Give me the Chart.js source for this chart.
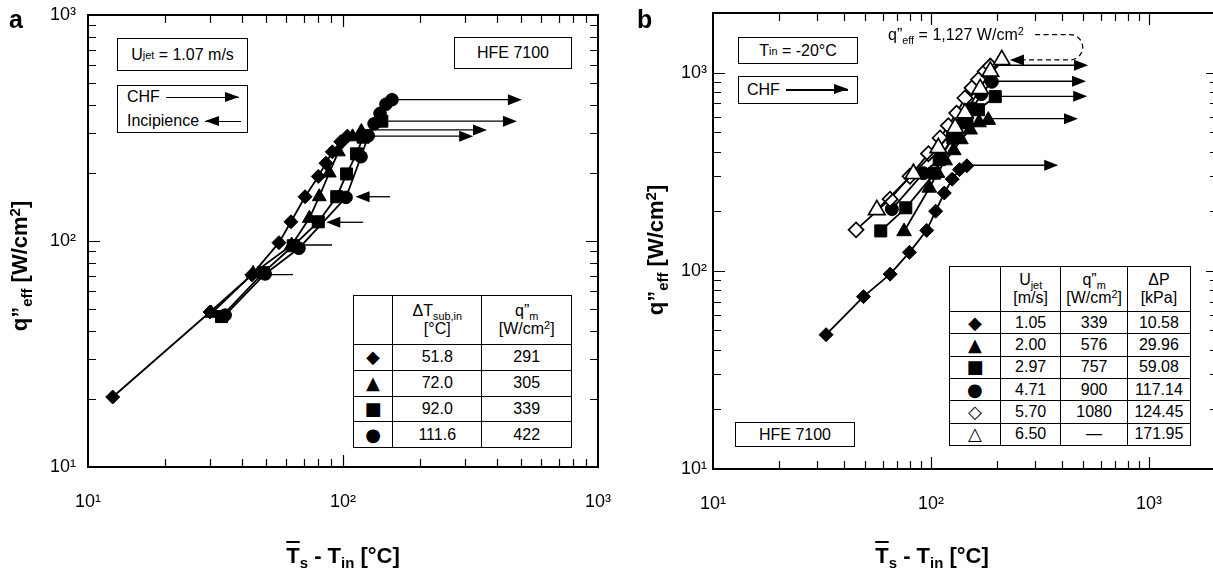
<!DOCTYPE html>
<html>
<head>
<meta charset="utf-8">
<script src="https://cdn.jsdelivr.net/npm/chart.js@4.4.0/dist/chart.umd.min.js"></script>
<style>
html, body { margin:0; padding:0; background:#fff; overflow:hidden; width:1213px; height:582px; }
body { position:relative; font-family:"Liberation Sans", Arial, Helvetica, sans-serif; color:#000; }
canvas { position:absolute; top:0; }
#chartA { left:0; }
#chartB { left:620px; }
sub { font-size:0.68em; vertical-align:-0.35em; line-height:0; }
sup { font-size:0.68em; vertical-align:0.45em; line-height:0; }
.box { position:absolute; border:1.5px solid #000; box-sizing:border-box; font-size:16px; white-space:nowrap; background:#fff; display:flex; align-items:center; justify-content:center; }
.col { flex-direction:column; align-items:flex-start; justify-content:center; padding-left:9px; line-height:24px; }
.arr { display:inline-block; position:relative; height:1.3px; background:#000; vertical-align:middle; margin-left:6px; }
.arr.r::after { content:''; position:absolute; right:0; top:-5px; border-left:14px solid #000; border-top:5.5px solid transparent; border-bottom:5.5px solid transparent; }
.arr.l::before { content:''; position:absolute; left:0; top:-5px; border-right:14px solid #000; border-top:5.5px solid transparent; border-bottom:5.5px solid transparent; }
.tl { position:absolute; font-weight:bold; font-size:22px; white-space:nowrap; transform:translate(-50%,-50%); }
.yt { transform:translate(-50%,-50%) rotate(-90deg); }
.ov { text-decoration:overline; text-decoration-thickness:2px; }
.panel { position:absolute; font-weight:bold; font-size:25px; }
table.leg { position:absolute; border-collapse:collapse; font-size:16px; background:#fff; border:1.5px solid #000; }
table.leg td { border:1px solid #000; text-align:center; padding:0; line-height:18px; }
.mk { font-family:"DejaVu Sans", sans-serif; font-size:18px; }
.note { position:absolute; font-size:16px; white-space:nowrap; transform:translateY(-50%); }
</style>
</head>
<body>
<canvas id="chartA" width="620" height="582"></canvas>
<canvas id="chartB" width="612" height="582"></canvas>

<div class="panel" style="left:9px;top:5px;">a</div>
<div class="panel" style="left:637px;top:5px;">b</div>

<div class="tl yt" style="left:20px;top:266px;">q”<sub>eff</sub> [W/cm<sup>2</sup>]</div>
<div class="tl" style="left:343px;top:556px;"><span class="ov">T</span><sub>s</sub> - T<sub>in</sub> [°C]</div>
<div class="tl yt" style="left:656px;top:250px;">q”<sub>eff</sub> [W/cm<sup>2</sup>]</div>
<div class="tl" style="left:932px;top:556px;"><span class="ov">T</span><sub>s</sub> - T<sub>in</sub> [°C]</div>

<div class="box" style="left:117px;top:38px;width:131px;height:33px;">U<sub>jet</sub>&nbsp;= 1.07 m/s</div>
<div class="box" style="left:454px;top:37px;width:118px;height:32px;">HFE 7100</div>
<div class="box col" style="left:117px;top:85px;width:131px;height:48px;">
  <div>CHF<span class="arr r" style="width:73px;"></span></div>
  <div>Incipience<span class="arr l" style="width:36px;"></span></div>
</div>

<div class="box" style="left:738px;top:37px;width:120px;height:27px;">T<sub>in</sub>&nbsp;= -20°C</div>
<div class="box" style="left:738px;top:76px;width:120px;height:28px;justify-content:flex-start;padding-left:8px;">CHF<span class="arr r" style="width:62px;"></span></div>
<div class="box" style="left:735px;top:422px;width:120px;height:25px;">HFE 7100</div>
<div class="note" style="left:888px;top:35px;">q”<sub>eff</sub> = 1,127 W/cm<sup>2</sup></div>

<table class="leg" id="legA" style="left:353px;top:295px;width:219px;height:153px;"></table>
<table class="leg" id="legB" style="left:949px;top:266px;width:242px;height:180px;"></table>

<script>
// panel a : U_jet = 1.07 m/s, four subcoolings
const aDiamondX = [12.5, 30.1, 43.9, 56.1, 62.5, 71.0, 80.0, 85.7, 90.8, 98.0, 104];
const aDiamondY = [20.4, 48.5, 70.8, 98.3, 121.6, 157, 193, 221, 248, 275, 291];
const aTriangleX = [30.5, 44.4, 62.9, 73.8, 80.7, 88.3, 95.9, 109, 118];
const aTriangleY = [47.9, 71.9, 96, 126, 157, 200, 248, 289, 305];
const aSquareX = [33.4, 48.7, 63.8, 80.0, 94.5, 103.3, 113, 120, 142];
const aSquareY = [46.3, 72.4, 95.3, 121.6, 157, 198, 243, 288, 339];
const aCircleX = [34.5, 49.5, 67.2, 102.8, 117.7, 125.6, 132.4, 139.7, 147.4, 155.7];
const aCircleY = [47, 71.5, 92.9, 156, 236, 292, 330, 367, 403, 422];

const aChfArrows = [
  {from: 155.7, to: 503, y: 422},
  {from: 142, to: 481, y: 339},
  {from: 118, to: 367, y: 310},
  {from: 104, to: 324, y: 291}
];
const aIncipArrows = [
  {from: 153, to: 112, y: 157},
  {from: 120, to: 86, y: 121}
];
const aIncipLeaders = [
  {from: 90.6, to: 67.2, y: 96},
  {from: 63.7, to: 48.7, y: 71}
];

const aSubcool = ['51.8', '72.0', '92.0', '111.6'];
const aQm = ['291', '305', '339', '422'];

// panel b : T_in = -20 C, six jet velocities
const bDiamondX = [33.0, 49.0, 64.9, 79.6, 95.5, 105, 115, 125, 135, 146];
const bDiamondY = [47.6, 74.1, 96.2, 124, 160, 200, 247, 290, 324, 339];
const bTriangleX = [75.2, 98.2, 107, 116, 127, 137, 151, 166, 183];
const bTriangleY = [158, 262, 311, 360, 405, 460, 515, 560, 576];
const bSquareX = [58.8, 76.6, 104, 109, 126, 146, 165, 197];
const bSquareY = [159, 208, 311, 364, 468, 561, 650, 757];
const bCircleX = [66.1, 92.3, 110, 125, 140, 155, 170, 190];
const bCircleY = [205, 311, 370, 470, 560, 660, 780, 900];
const bOpenDiamondX = [45.3, 64.9, 80, 97.3, 110, 120, 131, 143, 154, 165, 177, 187];
const bOpenDiamondY = [161, 230, 300, 390, 468, 540, 625, 745, 838, 922, 1015, 1080];
const bOpenTriangleX = [56.4, 83.0, 108, 129, 143, 168, 187, 211];
const bOpenTriangleY = [203, 309, 417, 526, 625, 828, 1015, 1160];

const bChfArrows = [
  {from: 187, to: 525, y: 1090},
  {from: 190, to: 514, y: 905},
  {from: 197, to: 520, y: 760},
  {from: 183, to: 472, y: 586},
  {from: 146, to: 383, y: 341}
];
const bCallout = {fromX: 300, bendX: 434, tipX: 230, textY: 1556, tipY: 1160};

const bUjet = ['1.05', '2.00', '2.97', '4.71', '5.70', '6.50'];
const bQm = ['339', '576', '757', '900', '1080', '—'];
const bDp = ['10.58', '29.96', '59.08', '117.14', '124.45', '171.95'];

const tickValsA = [10, 20, 30, 40, 50, 60, 70, 80, 90, 100, 200, 300, 400, 500, 600, 700, 800, 900, 1000];
const tickValsB = [10, 20, 30, 40, 50, 60, 70, 80, 90, 100, 200, 300, 400, 500, 600, 700, 800, 900, 1000, 2000];
const decadeLabels = {10: '10¹', 100: '10²', 1000: '10³'};

const markersA = ['◆', '▲', '■', '●'];
const markersB = ['◆', '▲', '■', '●', '◇', '△'];

// inward ticks on all four sides + frame
const frameTicks = {
  id: 'frameTicks',
  afterDraw(chart, args, o) {
    const {ctx, chartArea: a, scales: {x, y}} = chart;
    ctx.save();
    ctx.strokeStyle = '#000';
    ctx.lineWidth = 1.2;
    ctx.beginPath();
    o.ticks.forEach(v => {
      const len = decadeLabels[v] ? 12 : 8;
      if (v > x.min && v < x.max) {
        const px = Math.round(x.getPixelForValue(v)) + 0.5;
        ctx.moveTo(px, a.bottom); ctx.lineTo(px, a.bottom - len);
        ctx.moveTo(px, a.top); ctx.lineTo(px, a.top + len);
      }
      if (v > y.min && v < y.max) {
        const py = Math.round(y.getPixelForValue(v)) + 0.5;
        ctx.moveTo(a.left, py); ctx.lineTo(a.left + len, py);
        ctx.moveTo(a.right, py); ctx.lineTo(a.right - len, py);
      }
    });
    ctx.stroke();
    ctx.lineWidth = 2;
    ctx.strokeRect(a.left, a.top, a.right - a.left, a.bottom - a.top);
    ctx.restore();
  }
};

function head(ctx, xt, py, dir) {
  ctx.beginPath();
  ctx.moveTo(xt, py);
  ctx.lineTo(xt - dir * 14, py - 5.5);
  ctx.lineTo(xt - dir * 14, py + 5.5);
  ctx.closePath();
  ctx.fill();
}

const arrowsPlugin = {
  id: 'arrows',
  beforeDatasetsDraw(chart, args, o) {
    const {ctx, scales: {x, y}} = chart;
    ctx.save();
    ctx.strokeStyle = '#000';
    ctx.fillStyle = '#000';
    ctx.lineWidth = 1.3;
    (o.arrows || []).forEach(a => {
      const x0 = x.getPixelForValue(a.from), x1 = x.getPixelForValue(a.to), py = y.getPixelForValue(a.y);
      const dir = Math.sign(x1 - x0);
      ctx.beginPath(); ctx.moveTo(x0, py); ctx.lineTo(x1 - dir * 10, py); ctx.stroke();
      head(ctx, x1, py, dir);
    });
    (o.leaders || []).forEach(a => {
      const py = y.getPixelForValue(a.y);
      ctx.beginPath(); ctx.moveTo(x.getPixelForValue(a.from), py); ctx.lineTo(x.getPixelForValue(a.to), py); ctx.stroke();
    });
    const c = o.callout;
    if (c) {
      const xs = x.getPixelForValue(c.fromX), xb = x.getPixelForValue(c.bendX), xt = x.getPixelForValue(c.tipX);
      const y0 = y.getPixelForValue(c.textY), y1 = y.getPixelForValue(c.tipY);
      const r = (y1 - y0) / 2;
      ctx.setLineDash([5, 3.5]);
      ctx.beginPath();
      ctx.moveTo(xs, y0);
      ctx.lineTo(xb, y0);
      ctx.arc(xb, y0 + r, r, -Math.PI / 2, Math.PI / 2, false);
      ctx.lineTo(xt + 12, y1);
      ctx.stroke();
      ctx.setLineDash([]);
      head(ctx, xt, y1, -1);
    }
    ctx.restore();
  }
};

function pts(xs, ys) { return xs.map((v, i) => ({x: v, y: ys[i]})); }

function series(xs, ys, st) {
  return {
    data: pts(xs, ys),
    showLine: true,
    borderColor: '#000',
    borderWidth: 1.8,
    tension: 0,
    pointStyle: st.shape,
    pointRadius: st.r,
    pointHoverRadius: st.r,
    pointBackgroundColor: st.open ? '#fff' : '#000',
    pointBorderColor: '#000',
    pointBorderWidth: st.open ? 1.7 : 1,
    order: st.order
  };
}

function logAxis(tickVals, max, pad, size, horiz) {
  return {
    type: 'logarithmic',
    min: 10,
    max: max,
    grid: {display: false, drawTicks: false},
    border: {display: false},
    afterBuildTicks: s => { s.ticks = tickVals.map(v => ({value: v})); },
    afterFit: s => {
      if (horiz) s.height = size; else s.width = size;
      s.paddingLeft = 0; s.paddingRight = 0; s.paddingTop = 0; s.paddingBottom = 0;
    },
    ticks: {
      autoSkip: false,
      maxRotation: 0,
      minRotation: 0,
      padding: pad,
      color: '#000',
      font: {family: 'Liberation Sans', size: 18},
      callback: v => decadeLabels[v] || ''
    }
  };
}

function makeChart(id, datasets, cfg) {
  return new Chart(document.getElementById(id), {
    type: 'scatter',
    data: {datasets: datasets},
    options: {
      responsive: false,
      animation: false,
      devicePixelRatio: 1,
      layout: {padding: cfg.padding},
      scales: {
        x: logAxis(cfg.ticks, cfg.xMax, 24, cfg.xHeight, true),
        y: logAxis(cfg.ticks, cfg.yMax, cfg.yPad, cfg.yWidth, false)
      },
      plugins: {
        legend: {display: false},
        tooltip: {enabled: false},
        frameTicks: {ticks: cfg.ticks},
        arrows: cfg.arrows
      }
    },
    plugins: [frameTicks, arrowsPlugin]
  });
}

makeChart('chartA', [
  series(aDiamondX, aDiamondY, {shape: 'rectRot', r: 7, order: 4}),
  series(aTriangleX, aTriangleY, {shape: 'triangle', r: 8, order: 3}),
  series(aSquareX, aSquareY, {shape: 'rect', r: 8.5, order: 2}),
  series(aCircleX, aCircleY, {shape: 'circle', r: 6.3, order: 1})
], {
  ticks: tickValsA, xMax: 1000, yMax: 1000,
  padding: {left: 0, top: 15, right: 22, bottom: 0},
  xHeight: 115, yWidth: 88, yPad: 12,
  arrows: {arrows: aChfArrows.concat(aIncipArrows), leaders: aIncipLeaders}
});

// panel b is cut by the page edge: its right border sits just past the window
makeChart('chartB', [
  series(bDiamondX, bDiamondY, {shape: 'rectRot', r: 7, order: 6}),
  series(bTriangleX, bTriangleY, {shape: 'triangle', r: 8.5, order: 5}),
  series(bSquareX, bSquareY, {shape: 'rect', r: 8.5, order: 4}),
  series(bCircleX, bCircleY, {shape: 'circle', r: 6.5, order: 3}),
  series(bOpenDiamondX, bOpenDiamondY, {shape: 'rectRot', r: 7.5, open: true, order: 2}),
  series(bOpenTriangleX, bOpenTriangleY, {shape: 'triangle', r: 9.5, open: true, order: 1})
], {
  ticks: tickValsB, xMax: 2070, yMax: 2000,
  padding: {left: 0, top: 13, right: 14, bottom: 0},
  xHeight: 113, yWidth: 93, yPad: 6,
  arrows: {arrows: bChfArrows, callout: bCallout}
});

// legend tables
function fillTable(id, head, marks, cols, widths, headH) {
  const t = document.getElementById(id);
  let h = '<tr style="height:' + headH + 'px">';
  head.forEach((c, i) => { h += '<td style="width:' + widths[i] + 'px">' + c + '</td>'; });
  h += '</tr>';
  marks.forEach((m, r) => {
    h += '<tr><td class="mk">' + m + '</td>';
    cols.forEach(c => { h += '<td>' + c[r] + '</td>'; });
    h += '</tr>';
  });
  t.innerHTML = h;
}

fillTable('legA',
  ['', 'ΔT<sub>sub,in</sub><br>[°C]', 'q”<sub>m</sub><br>[W/cm<sup>2</sup>]'],
  markersA, [aSubcool, aQm], [39, 90, 90], 49);
fillTable('legB',
  ['', 'U<sub>jet</sub><br>[m/s]', 'q”<sub>m</sub><br>[W/cm<sup>2</sup>]', 'ΔP<br>[kPa]'],
  markersB, [bUjet, bQm, bDp], [52, 61, 66, 63], 45);
</script>
</body>
</html>
